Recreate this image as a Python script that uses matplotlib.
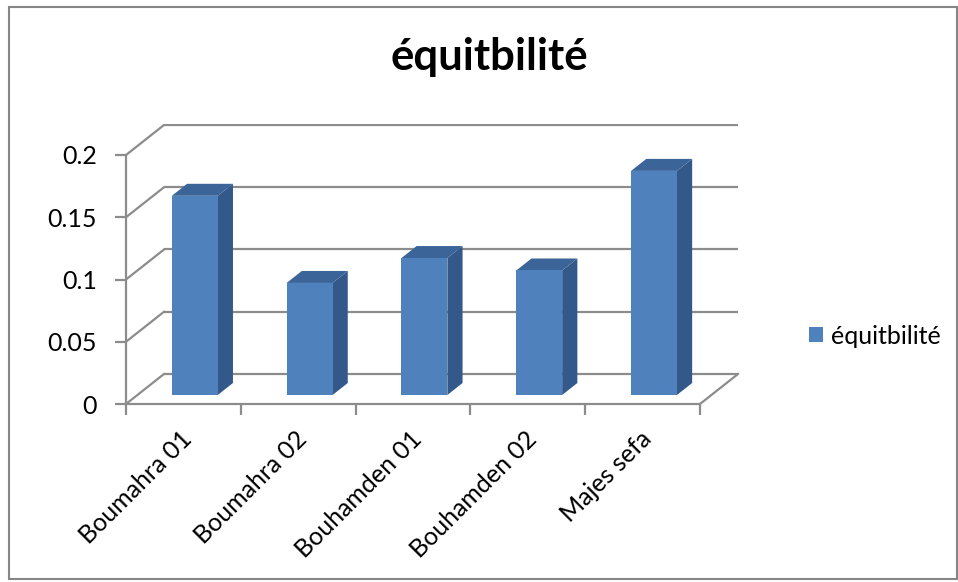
import matplotlib.pyplot as plt
from matplotlib.patches import Polygon, Rectangle, Patch
from matplotlib.transforms import ScaledTranslation

plt.rcParams['font.family'] = ['Lato', 'DejaVu Sans']

categories = ["Boumahra 01", "Boumahra 02", "Bouhamden 01", "Bouhamden 02", "Majes sefa"]
values = [0.16, 0.09, 0.11, 0.10, 0.18]
y_ticks = [0, 0.05, 0.1, 0.15, 0.2]
y_ticklabels = ["0", "0.05", "0.1", "0.15", "0.2"]
series_name = "équitbilité"

W, H = 958, 582
GRID = '#8c8c8c'
FRONT = '#4f81bd'
SIDE = '#33588a'
TOP = '#3b6498'

# fake 3d: depth offset in data units (x in categories, y in value)
DX = 0.331
DY = 0.0241
BAR_W = 0.4
D0, D1 = 0.3, 0.7   # bar front/back as fraction of depth

fig = plt.figure(figsize=(W / 100, H / 100), dpi=100)
fig.patches.append(Rectangle((9 / W, 1 - 579 / H), 948 / W, 572 / H, transform=fig.transFigure,
                             fill=False, edgecolor='#868686', linewidth=1.5))

x0, x1, ytop, ybot = 126, 740, 124, 404
ax = fig.add_axes([x0 / W, 1 - ybot / H, (x1 - x0) / W, (ybot - ytop) / H])
n = len(categories)
ax.set_xlim(0, (x1 - x0) / 114.8)
ax.set_ylim(0, (ybot - ytop) / 1245)
ax.set_facecolor('none')

# back wall + left wall lines
for v in y_ticks:
    ax.plot([DX, n + DX], [v + DY, v + DY], color=GRID, lw=1.6, zorder=1, solid_capstyle='butt')
    ax.plot([0, DX], [v, v + DY], color=GRID, lw=1.6, zorder=1)
ax.plot([n, n + DX], [0, DY], color=GRID, lw=1.6, zorder=1)

# bars
for i, v in enumerate(values):
    c = i + 0.5
    xl = c - BAR_W / 2 + D0 * DX
    xr = c + BAR_W / 2 + D0 * DX
    yb = D0 * DY
    ddx = (D1 - D0) * DX
    ddy = (D1 - D0) * DY
    ax.add_patch(Polygon([(xr, yb), (xr + ddx, yb + ddy), (xr + ddx, v + yb + ddy), (xr, v + yb)],
                         closed=True, facecolor=SIDE, edgecolor='none', zorder=3))
    ax.add_patch(Polygon([(xl, v + yb), (xr, v + yb), (xr + ddx, v + yb + ddy), (xl + ddx, v + yb + ddy)],
                         closed=True, facecolor=TOP, edgecolor='none', zorder=3))
    ax.add_patch(Rectangle((xl, yb), xr - xl, v, facecolor=FRONT, edgecolor='none', zorder=4))

for s in ['top', 'right']:
    ax.spines[s].set_visible(False)
ax.spines['left'].set_bounds(0, 0.2)
ax.spines['bottom'].set_bounds(0, n)
for s in ['left', 'bottom']:
    ax.spines[s].set_color(GRID)
    ax.spines[s].set_linewidth(1.6)

ax.set_yticks(y_ticks, y_ticklabels)
ax.set_xticks(range(n + 1), [''] * (n + 1))
ax.tick_params(axis='both', direction='out', length=8, width=1.6, color=GRID, labelsize=18, labelcolor='black')
ax.tick_params(axis='y', pad=13)

off = ScaledTranslation(5 / 100, -31 / 100, fig.dpi_scale_trans)
for i, lab in enumerate(categories):
    ax.text(i + 0.5, 0, lab, transform=ax.transData + off, rotation=45, rotation_mode='anchor',
            ha='right', va='center', fontsize=18)

fig.text(489 / W, 1 - 57 / H, series_name, ha='center', va='center', fontsize=31.5, fontweight='bold')

fig.legend(handles=[Patch(facecolor=FRONT, edgecolor='none')], labels=[series_name],
           loc='center left', bbox_to_anchor=(809 / W, 1 - 336 / H), frameon=False, fontsize=18,
           handlelength=0.55, handleheight=0.55, handletextpad=0.35, borderpad=0, borderaxespad=0)

fig.savefig('out.png', dpi=100)
